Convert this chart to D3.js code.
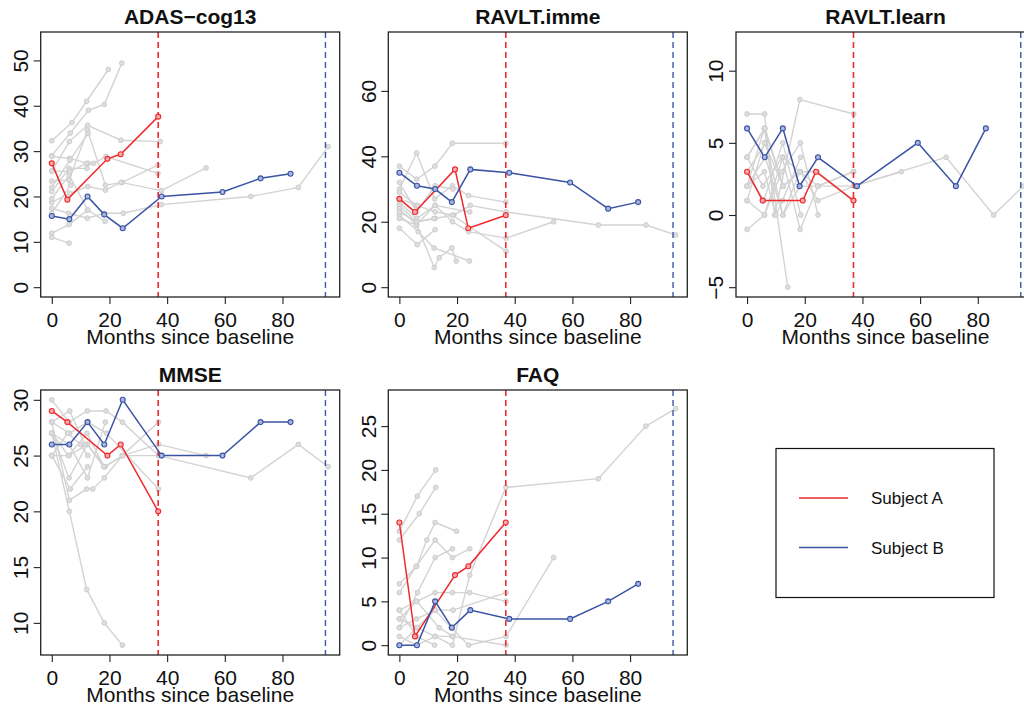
<!DOCTYPE html>
<html>
<head>
<meta charset="utf-8">
<script src="https://cdn.jsdelivr.net/npm/d3@7"></script>
<style>
  body { margin: 0; background: #fff; }
  svg { display: block; font-family: "Liberation Sans", Arial, Helvetica, sans-serif; }
</style>
</head>
<body>
<div id="chart"></div>
<script>
// panel setup
const panelTitles = ["ADAS\u2212cog13", "RAVLT.imme", "RAVLT.learn", "MMSE", "FAQ"]
const yLimits = [[0, 54.1], [0, 75], [-5, 12], [8, 30], [0, 28]]
const yTickValues = [
  [0, 10, 20, 30, 40, 50],
  [0, 20, 40, 60],
  [-5, 0, 5, 10],
  [10, 15, 20, 25, 30],
  [0, 5, 10, 15, 20, 25]
]
const xLimits = [0, 96]
const xTickValues = [0, 20, 40, 60, 80]
const xLabel = "Months since baseline"

// highlighted subjects
const timesA = [0, 5.4, 19.3, 23.9, 36.9]
const timesB = [0, 6.1, 12.4, 18.2, 24.6, 38.1, 59.2, 72.4, 82.8]
const lastVisitA = 36.9
const lastVisitB = 94.9

const adasA = [27.3, 19.3, 28.3, 29.3, 37.6]
const adasB = [15.7, 15, 20, 16, 13, 20, 21, 24, 25]
const immeA = [27, 23, 36, 18, 22]
const immeB = [35, 31, 30, 26, 36, 35, 32, 24, 26]
const learnA = [3, 1, 1, 3, 1]
const learnB = [6, 4, 6, 2, 4, 2, 5, 2, 6]
const mmseA = [29, 28, 25, 26, 20]
const mmseB = [26, 26, 28, 26, 30, 25, 25, 28, 28]
const faqA = [14, 1, 8, 9, 14]
const faqB = [0, 0, 5, 2, 4, 3, 3, 5, 7]

// other subjects: [times, values]
const adasGray = [
  [[0, 7, 12.1, 19.6], [32.3, 36.3, 41, 48]],
  [[0, 6.4, 12.7, 18.2, 24.3], [29, 34, 39, 40.3, 49.4]],
  [[0, 6.1, 12.4, 24, 37.6], [25.6, 32.1, 35.7, 32.4, 32.1]],
  [[0, 6.2, 12.6, 14.5, 18.8, 36.8], [28.8, 28.4, 27.3, 27.3, 28.8, 25.1]],
  [[0, 6, 12.4, 18.6, 24.4, 36.8], [23.4, 23.6, 34.6, 22.5, 23.1, 26.9]],
  [[0, 5.8, 12.3, 18.2, 24.8, 38, 69, 85.5, 95.8], [17.4, 16.3, 15.2, 16.3, 16.3, 18.2, 20, 22, 31]],
  [[0, 6.2, 12.5, 18.6, 24, 38, 53.5], [18.7, 20.7, 22.2, 21.4, 23.1, 21.3, 26.3]],
  [[0, 6, 12.4], [11.9, 13.8, 17]],
  [[0, 6], [11, 9.7]],
  [[0, 6.3, 12.6], [22, 28, 33.9]],
  [[0, 6, 12.2], [21.1, 26.2, 26.2]],
  [[0, 6, 12.5, 18.5], [19.5, 24.7, 17, 14.5]],
  [[0, 6.5], [16.3, 22.5]],
  [[0, 6.2, 12], [25.6, 25.5, 27.3]]
]
const immeGray = [
  [[0, 6, 12.3, 18.4, 36.9], [37, 33, 37, 44, 44]],
  [[0, 6, 12.2, 18.4, 24, 36.9], [30, 41, 27, 31, 28, 26]],
  [[0, 6, 12.4, 18.8, 24.6, 37, 69, 85.5, 95.8], [29, 25, 23, 22, 25, 23, 19, 19, 16]],
  [[0, 6, 12.4, 18.4, 24, 37, 53.5], [26, 21, 25, 20, 17, 15, 20]],
  [[0, 6, 12.4, 18.4, 37], [25, 20, 21, 22, 11]],
  [[0, 6.2, 12.4], [18, 13, 17.6]],
  [[0, 6, 12.1, 13.8, 18.2, 19.7], [24, 19, 6, 9, 12, 8]],
  [[0, 6.5, 12, 24.3], [22, 17, 12, 8]],
  [[0, 6, 12.4, 18.6], [32, 23, 31, 30]],
  [[0, 5.8, 12.4, 24.4], [21, 19, 25, 23]],
  [[0, 6, 12], [23, 20, 21]],
  [[0, 6.3], [27, 25]]
]
const learnGray = [
  [[0, 6.1, 9.5, 18.3, 37], [7, 7, 0, 8, 7]],
  [[0, 6, 14.1], [4, 6, -5]],
  [[0, 6, 12.4, 18.3, 24.6, 37, 69, 85.5, 95.8], [1, 0, 4, 3, 2, 2, 4, 0, 2]],
  [[0, 6, 12.4, 18.5, 24.6, 37, 53.5], [2, 6, 2, 3, 1, 2, 3]],
  [[0, 6, 12, 18.5, 24.6], [-1, 0, 3, 5, 0]],
  [[0, 5.5, 12.2, 18.4, 24.6, 37], [4, 2, 4, -1, 2, 3]],
  [[0, 6.5, 12.4, 18.2], [3, 5, 0, 3]],
  [[0, 6, 10, 12.3, 18.6], [2, 3, 0, 1, 4]],
  [[0, 6.2, 12.6, 18.3, 24.3, 37], [4, 6, 2, 3, 3, 1]],
  [[0, 5.8, 12.4, 18.6], [3, 1, 5, 0]],
  [[0, 6, 12.5], [1, 5, 2]],
  [[0, 6.3, 12.4, 18.4, 24.4, 36.8], [2, 4, 0, 2, 2, 3]]
]
const mmseGray = [
  [[0, 6.1, 12.1, 18.2, 24.5], [27, 20, 13, 10, 8]],
  [[0, 6, 12.3, 18.8, 24.5, 37], [30, 28, 29, 29, 28, 25]],
  [[0, 6, 12.4, 18.5, 24.5, 37, 69, 85.5, 95.8], [25, 25, 26, 24, 25, 25, 23, 26, 24]],
  [[0, 6.2, 12.4, 19, 37], [28, 27, 28, 27, 22]],
  [[0, 5.8, 12.2, 18.2, 24.5, 37, 53.5], [27, 25, 27, 24, 25, 26, 25]],
  [[0, 6.1, 12.1, 14.2, 18.2, 24.5, 37], [28, 21, 22, 22, 23, 25, 28]],
  [[0, 6.4, 12.4], [25, 22, 24]],
  [[0, 6, 12.3, 18], [27, 23, 26, 24]],
  [[0, 6.2, 11.5], [28, 29, 26]],
  [[0, 6, 12.4, 18.6], [27, 26, 23, 28]],
  [[0, 5.5, 10, 12.5], [25, 27, 26, 25]]
]
const faqGray = [
  [[0, 6.2, 12.6], [13, 17, 20]],
  [[0, 6.9, 12.6], [12, 15, 18]],
  [[0, 6, 9.5, 12.4, 19.8], [7, 9, 12, 14, 13]],
  [[0, 6, 12.4, 18.4, 24.4, 36.9, 69, 85.5, 95.8], [1, 0, 1, 0, 8, 18, 19, 25, 27]],
  [[0, 6, 12.4, 18.4, 24.4, 37], [4, 5, 6, 6, 6, 5]],
  [[0, 6, 12.4, 18, 24, 37, 53.5], [3, 2, 4, 2, 0, 1, 10]],
  [[0, 5.8, 12.4, 18.4, 24.4], [6, 9, 12, 10, 11]],
  [[0, 6.3, 12.4, 18.4], [2, 6, 10, 11]],
  [[0, 6.2, 12.4, 18.4, 37], [0, 2, 1, 1, 0]],
  [[0, 6, 12.4, 18.6, 37], [2, 3, 4, 4, 6]],
  [[0, 6, 12.2], [4, 1, 0]],
  [[0, 6, 13.8, 18.5], [3, 5, 2, 1]]
]

const grayByPanel = [adasGray, immeGray, learnGray, mmseGray, faqGray]
const valuesA = [adasA, immeA, learnA, mmseA, faqA]
const valuesB = [adasB, immeB, learnB, mmseB, faqB]
const legendLabels = ["Subject A", "Subject B"]

const red = "#ee2a2e"
const blue = "#3a54a4"
const gray = "#d3d3d3"

const colLeft = [40.7, 388.3, 736]
const rowTop = [32, 390]
const boxW = 299
const boxH = 265

function ext(d) {
  const r = d[1] - d[0]
  return [d[0] - 0.04 * r, d[1] + 0.04 * r]
}

function zip(t, v) {
  return t.map((d, i) => [d, v[i]])
}

const svg = d3.select('#chart').append('svg')
  .attr('width', 1024)
  .attr('height', 706)

svg.append('rect').attr('width', 1024).attr('height', 706).attr('fill', '#fff')

panelTitles.forEach((title, i) => {
  const left = colLeft[i % 3]
  const top = rowTop[Math.floor(i / 3)]
  const x = d3.scaleLinear().domain(ext(xLimits)).range([left, left + boxW])
  const y = d3.scaleLinear().domain(ext(yLimits[i])).range([top + boxH, top])
  const line = d3.line().x(d => x(d[0])).y(d => y(d[1]))

  const g = svg.append('g')

  svg.append('clipPath').attr('id', 'clip' + i)
    .append('rect')
    .attr('x', left).attr('y', top).attr('width', boxW).attr('height', boxH)

  const plot = g.append('g').attr('clip-path', 'url(#clip' + i + ')')

  // gray subjects
  grayByPanel[i].forEach(s => {
    const pts = zip(s[0], s[1])
    plot.append('path')
      .attr('d', line(pts))
      .attr('fill', 'none')
      .attr('stroke', gray)
      .attr('stroke-width', 1.4)
    plot.selectAll(null).data(pts).enter().append('circle')
      .attr('cx', d => x(d[0]))
      .attr('cy', d => y(d[1]))
      .attr('r', 2.4)
      .attr('fill', '#dedede')
      .attr('stroke', '#c9c9c9')
      .attr('stroke-width', 0.9)
  })

  // last visit markers
  plot.append('line')
    .attr('x1', x(lastVisitA)).attr('x2', x(lastVisitA))
    .attr('y1', top).attr('y2', top + boxH)
    .attr('stroke', red).attr('stroke-width', 1.6)
    .attr('stroke-dasharray', '6,4')
  plot.append('line')
    .attr('x1', x(lastVisitB)).attr('x2', x(lastVisitB))
    .attr('y1', top).attr('y2', top + boxH)
    .attr('stroke', blue).attr('stroke-width', 1.4)
    .attr('stroke-dasharray', '6,4')

  // subjects A and B
  const subj = [
    [zip(timesA, valuesA[i]), red, '#f6a9a9'],
    [zip(timesB, valuesB[i]), blue, '#a9b5dd']
  ]
  subj.forEach(s => {
    plot.append('path')
      .attr('d', line(s[0]))
      .attr('fill', 'none')
      .attr('stroke', s[1])
      .attr('stroke-width', 1.5)
    plot.selectAll(null).data(s[0]).enter().append('circle')
      .attr('cx', d => x(d[0]))
      .attr('cy', d => y(d[1]))
      .attr('r', 2.5)
      .attr('fill', s[2])
      .attr('stroke', s[1])
      .attr('stroke-width', 1.1)
  })

  // axes
  const xAxis = g.append('g')
    .attr('transform', `translate(0,${top + boxH})`)
    .call(d3.axisBottom(x).tickValues(xTickValues).tickSize(7).tickSizeOuter(0))
  xAxis.select('.domain').remove()
  xAxis.selectAll('line').attr('stroke', '#222').attr('stroke-width', 1.1)
  xAxis.selectAll('text')
    .attr('y', 29.5).attr('dy', 0)
    .attr('font-size', 21).attr('fill', '#111')
    .attr('font-family', '"Liberation Sans", Arial, sans-serif')

  const yAxis = g.append('g')
    .attr('transform', `translate(${left},0)`)
    .call(d3.axisLeft(y).tickValues(yTickValues[i]).tickSize(7).tickSizeOuter(0))
  yAxis.select('.domain').remove()
  yAxis.selectAll('line').attr('stroke', '#222').attr('stroke-width', 1.1)
  yAxis.selectAll('text')
    .attr('transform', 'rotate(-90)')
    .attr('x', 0).attr('y', -12.7).attr('dy', 0)
    .attr('text-anchor', 'middle')
    .attr('font-size', 21).attr('fill', '#111')
    .attr('font-family', '"Liberation Sans", Arial, sans-serif')

  // box
  g.append('rect')
    .attr('x', left).attr('y', top)
    .attr('width', boxW).attr('height', boxH)
    .attr('fill', 'none')
    .attr('stroke', '#222')
    .attr('stroke-width', 1.3)

  g.append('text')
    .attr('x', left + boxW / 2).attr('y', top - 8)
    .attr('text-anchor', 'middle')
    .attr('font-size', 21).attr('font-weight', 'bold')
    .attr('fill', '#111')
    .text(title)

  g.append('text')
    .attr('x', left + boxW / 2).attr('y', top + boxH + 47)
    .attr('text-anchor', 'middle')
    .attr('font-size', 21)
    .attr('fill', '#111')
    .text(xLabel)
})

// legend
const legend = svg.append('g')
legend.append('rect')
  .attr('x', 776).attr('y', 448.5)
  .attr('width', 218).attr('height', 149)
  .attr('fill', '#fff').attr('stroke', '#111').attr('stroke-width', 1.2)
legendLabels.forEach((lab, i) => {
  const ly = 498 + i * 49.5
  legend.append('line')
    .attr('x1', 799).attr('x2', 848)
    .attr('y1', ly).attr('y2', ly)
    .attr('stroke', i === 0 ? red : blue)
    .attr('stroke-width', 1.5)
  legend.append('text')
    .attr('x', 871).attr('y', ly + 6)
    .attr('font-size', 17)
    .attr('fill', '#111')
    .text(lab)
})
</script>
</body>
</html>
